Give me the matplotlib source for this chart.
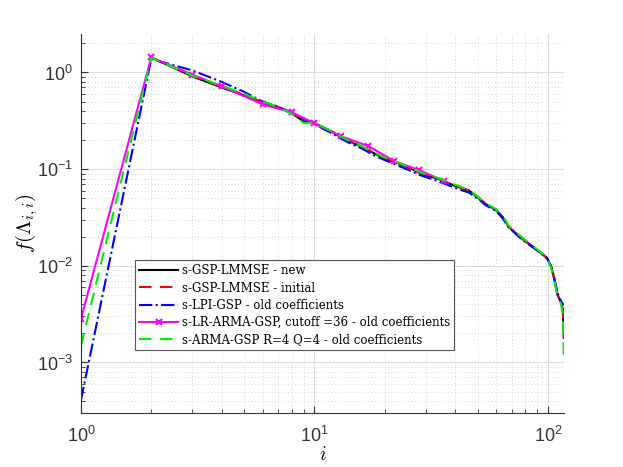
import numpy as np
import matplotlib
matplotlib.use('Agg')
import matplotlib.pyplot as plt

plt.rcParams['font.family'] = ['Liberation Sans', 'DejaVu Sans']
plt.rcParams['mathtext.fontset'] = 'cm'

# index values shared by the full-length curves
idx = [1, 2, 3, 4, 5, 6, 7, 8, 9, 10, 11, 12, 13, 14, 16, 18, 20, 22, 25, 29,
       34, 40, 46, 51, 54, 60, 64, 68, 75, 83, 91, 99, 103, 106, 110, 114, 116, 117]

gsp_new = [np.nan, 1.43, 0.91, 0.70, 0.58, 0.49, 0.435, 0.378, 0.31, 0.30, 0.265,
           0.24, 0.214, 0.195, 0.170, 0.146, 0.130, 0.119, 0.105, 0.089, 0.079,
           0.067, 0.060, 0.049, 0.0436, 0.0378, 0.032, 0.0252, 0.0204, 0.0169,
           0.0143, 0.0121, 0.0100, 0.0077, 0.0050, 0.0041, 0.0035, 0.0018]

gsp_init = [np.nan, 1.43, 0.92, 0.71, 0.59, 0.49, 0.44, 0.38, 0.315, 0.30, 0.268,
            0.242, 0.216, 0.196, 0.171, 0.147, 0.131, 0.120, 0.106, 0.090, 0.080,
            0.067, 0.060, 0.050, 0.0440, 0.0375, 0.032, 0.0255, 0.0202, 0.0168,
            0.0142, 0.0120, 0.0098, 0.0076, 0.0050, 0.0041, 0.0034, 0.0018]

lpi = [4.1e-4, 1.38, 1.05, 0.80, 0.63, 0.50, 0.44, 0.385, 0.33, 0.295, 0.258,
       0.232, 0.207, 0.188, 0.163, 0.139, 0.124, 0.113, 0.099, 0.085, 0.075,
       0.064, 0.057, 0.048, 0.0425, 0.0370, 0.031, 0.0250, 0.0200, 0.0166,
       0.0141, 0.0120, 0.0100, 0.0079, 0.0052, 0.0043, 0.0040, 0.0039]

arma = [1.5e-3, 1.42, 0.93, 0.73, 0.60, 0.50, 0.44, 0.37, 0.30, 0.30, 0.27,
        0.243, 0.218, 0.198, 0.172, 0.149, 0.132, 0.121, 0.107, 0.091, 0.081,
        0.069, 0.061, 0.050, 0.0445, 0.0385, 0.033, 0.0260, 0.0210, 0.0172,
        0.0145, 0.0122, 0.0097, 0.0075, 0.0048, 0.0040, 0.0030, 0.00103]

# low-rank ARMA, evaluated up to the cutoff
lr_idx = [1, 2, 3, 4, 6, 8, 10, 13, 17, 22, 28, 36]
lr_arma = [2.84e-3, 1.43, 0.95, 0.72, 0.468, 0.387, 0.298, 0.219, 0.173,
           0.121, 0.098, 0.075]

fig = plt.figure(figsize=(6.23, 4.67), dpi=100)
ax = fig.add_axes([0.130, 0.1156, 0.775, 0.8116])

ax.plot(idx, gsp_new, '-', color='black', lw=1.5, label='s-GSP-LMMSE - new')
ax.plot(idx, gsp_init, '--', color='red', lw=1.5, dashes=(6, 4),
        label='s-GSP-LMMSE - initial')
ax.plot(idx, lpi, '-.', color='blue', lw=1.5, label='s-LPI-GSP - old coefficients')
ax.plot(lr_idx, lr_arma, '-', color='magenta', lw=1.5, marker='x', ms=5, mew=1.5,
        label='s-LR-ARMA-GSP, cutoff =36 - old coefficients')
ax.plot(idx, arma, '--', color='#00ee00', lw=1.5, dashes=(6, 4),
        label='s-ARMA-GSP R=4 Q=4 - old coefficients')

ax.set_xscale('log')
ax.set_yscale('log')
ax.set_xlim(1, 117)
ax.set_ylim(3e-4, 2.5)

ax.grid(True, which='major', color='#dcdcdc', lw=0.8, ls='-')
ax.grid(True, which='minor', color='#c8c8c8', lw=0.6, ls=(0, (1, 3)))
ax.set_axisbelow(True)

for s in ['top', 'right']:
    ax.spines[s].set_visible(False)
for s in ['left', 'bottom']:
    ax.spines[s].set_color('#333333')
    ax.spines[s].set_linewidth(0.8)
ax.tick_params(which='both', direction='in', colors='#333333', labelsize=13)
ax.tick_params(which='major', length=5)
ax.tick_params(which='minor', length=3)
ax.tick_params(axis='x', pad=9)
ax.tick_params(axis='y', pad=6)

ax.set_xlabel('$i$', fontsize=14, labelpad=0)
ax.set_ylabel(r'$f(\Lambda_{i,i})$', fontsize=15)
ax.yaxis.set_label_coords(-0.085, 0.5)

leg = ax.legend(loc='lower left', bbox_to_anchor=(0.112, 0.166), borderaxespad=0,
                prop={'family': 'DejaVu Serif', 'size': 8.5}, fancybox=False,
                handlelength=3.3, handletextpad=0.3, labelspacing=0.35,
                borderpad=0.35, framealpha=1)
leg.get_frame().set_edgecolor('#555555')
leg.get_frame().set_linewidth(0.8)

fig.savefig('out.png', dpi=100)
